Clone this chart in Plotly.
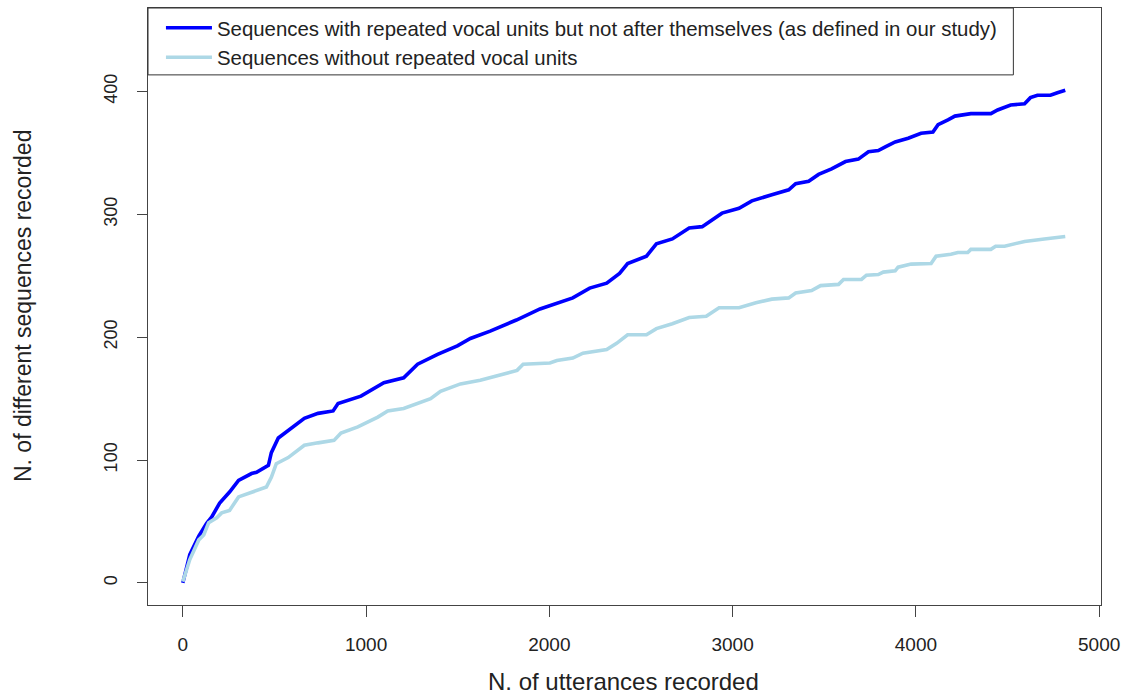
import plotly.graph_objects as go

# Cumulative curves
rep_x = [0, 38, 87, 130, 157, 201, 255, 304, 375, 402, 467, 483, 521, 592, 663, 738, 820, 847, 972,
         1097, 1205, 1281, 1390, 1498, 1569, 1677, 1820, 1949, 2041, 2128, 2220, 2313, 2383, 2427,
         2530, 2584, 2671, 2763, 2834, 2942, 3035, 3105, 3214, 3306, 3344, 3415, 3469, 3540, 3616,
         3686, 3741, 3795, 3833, 3887, 3958, 4028, 4093, 4121, 4175, 4213, 4300, 4409, 4446, 4517,
         4593, 4625, 4663, 4734, 4772, 4815]
rep_y = [0, 23, 38, 48.5, 53.5, 65, 74, 83.5, 89, 90, 95.7, 106, 118, 126, 134, 138, 140, 146, 152,
         163, 167, 178, 186, 193, 199, 205, 214, 223, 228, 232, 240, 244, 252, 260,
         266, 276, 280, 289, 290, 301, 305, 311, 316, 320, 325, 327, 332.5, 337, 343,
         345, 351, 352, 355, 359, 362, 366, 367, 373, 377, 380, 382, 382, 385, 389,
         390, 395, 397, 397, 399, 401]

norep_x = [0, 33, 38, 87, 114, 141, 185, 212, 255, 304, 375, 456, 483, 510, 575, 663, 738, 825, 863,
           955, 1064, 1118, 1205, 1281, 1352, 1406, 1515, 1623, 1716, 1824, 1857, 2003, 2041, 2128,
           2183, 2313, 2367, 2427, 2530, 2584, 2671, 2763, 2856, 2926, 3035, 3127, 3214, 3306, 3344,
           3431, 3480, 3578, 3605, 3703, 3730, 3795, 3822, 3887, 3903, 3974, 4083, 4110, 4191, 4229,
           4283, 4300, 4409, 4435, 4484, 4593, 4701, 4815]
norep_y = [1, 16, 19, 35, 39, 49, 53, 57, 59, 70, 74, 78, 86, 97, 102, 112, 114, 116, 122,
           127, 135, 140, 142, 146, 150, 156, 162, 165, 169, 173, 178, 179, 181, 183,
           187, 190, 195, 202, 202, 207, 211, 216, 217, 224, 224, 228, 231, 232, 236,
           238, 242, 243, 247, 247, 250.5, 251, 253, 254, 257, 259.5, 260, 266, 267.6, 269,
           269, 271.5, 271.5, 274, 274, 278, 280, 282]

x_ticks = [0, 1000, 2000, 3000, 4000, 5000]
y_ticks = [0, 100, 200, 300, 400]

FONT = "Liberation Sans, Arial, sans-serif"
TXT = "#222222"
AX = "#444444"
PW, PH = 957, 598  # plot area size in px

fig = go.Figure()
fig.add_trace(go.Scatter(
    x=rep_x, y=rep_y, mode="lines",
    name="Sequences with repeated vocal units but not after themselves (as defined in our study)",
    line=dict(color="#0000ff", width=3.6)))
fig.add_trace(go.Scatter(
    x=norep_x, y=norep_y, mode="lines",
    name="Sequences without repeated vocal units",
    line=dict(color="#add8e6", width=3.6)))

fig.update_layout(
    width=1127, height=698,
    margin=dict(l=148, r=22, t=7, b=93),
    paper_bgcolor="white", plot_bgcolor="white",
    font=dict(family=FONT, color=TXT, size=18),
    showlegend=True,
    legend=dict(x=(161 - 148) / PW, y=1, xanchor="left", yanchor="top",
                bgcolor="rgba(0,0,0,0)", borderwidth=0,
                font=dict(size=20.4, color=TXT), tracegroupgap=0,
                itemwidth=46),
    shapes=[dict(type="rect", xref="paper", yref="paper",
                 x0=0, x1=(1017 - 148) / PW, y0=1 - (74 - 7) / PH, y1=1,
                 line=dict(color="#333333", width=1), fillcolor="white", layer="above")],
    xaxis=dict(range=[-190, 5010], tickvals=x_ticks, ticktext=[str(v) for v in x_ticks],
               showgrid=False, zeroline=False, showline=True, linecolor=AX, linewidth=1,
               mirror=True, ticks="outside", ticklen=11, tickcolor=AX,
               tickfont=dict(size=19, color=TXT), ticklabelstandoff=11),
    yaxis=dict(range=[-18, 468], tickvals=y_ticks, ticktext=[str(v) for v in y_ticks],
               showgrid=False, zeroline=False, showline=True, linecolor=AX, linewidth=1,
               mirror=True, ticks="outside", ticklen=10, tickcolor=AX, tickangle=-90,
               tickfont=dict(size=18, color=TXT), ticklabelstandoff=13),
    annotations=[
        dict(text="N. of utterances recorded", xref="paper", yref="paper",
             x=(625 - 148) / PW, y=-(682 - 605) / PH, xanchor="center", yanchor="middle",
             showarrow=False, font=dict(size=24, color=TXT)),
        dict(text="N. of different sequences recorded", xref="paper", yref="paper",
             x=-(148 - 22) / PW, y=0.5, xanchor="center", yanchor="middle",
             textangle=-90, showarrow=False, font=dict(size=23, color=TXT)),
    ],
)

fig.write_html("out.html")
